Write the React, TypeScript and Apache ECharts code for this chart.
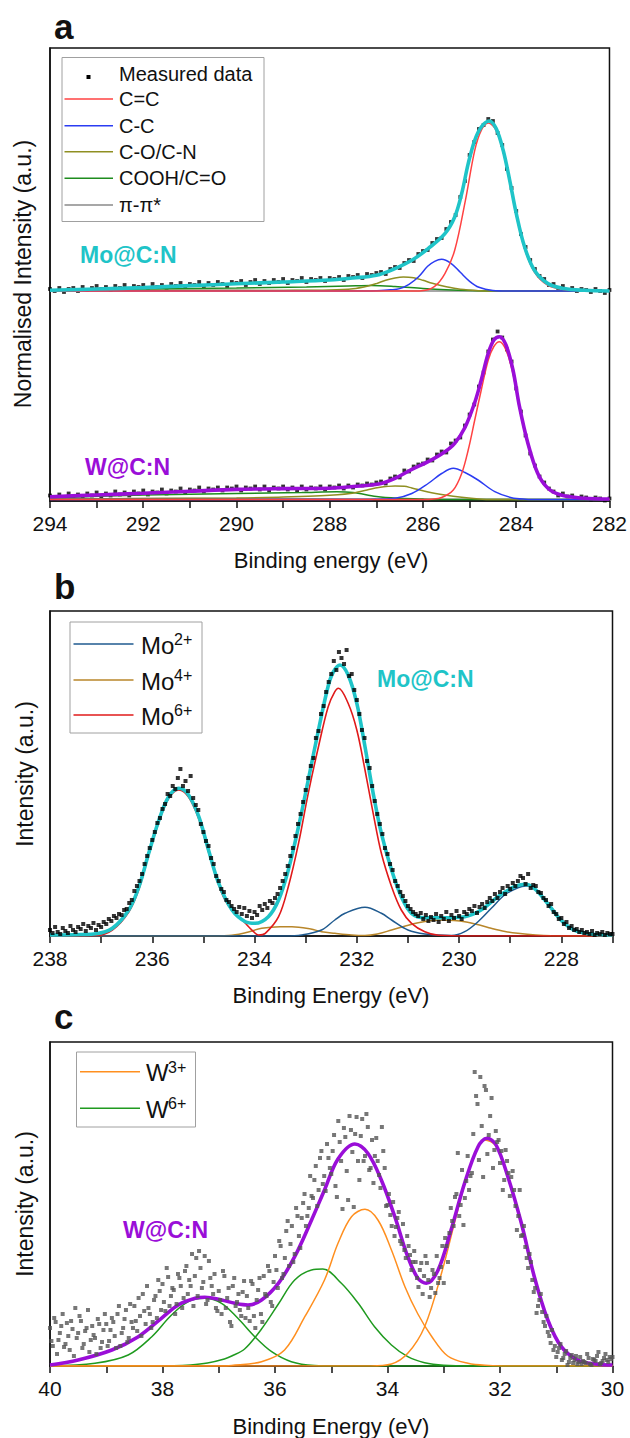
import React, { useEffect, useRef } from 'react';
import * as echarts from 'echarts';

const FONT = '"Liberation Sans", Arial, Helvetica, sans-serif';

// ---------------- Panel a : C 1s ----------------
const A_BE_START = 294;
const A_BE_STEP = 0.1;
const MO_OFFSET = 210;
const W_OFFSET = 1.5;

const A_MO_MEASURED = [
  2, 0, 3, -1, 2, 3, 0, 4, 1, 3,
  5, 2, 4, 1, 5, 3, 6, 2, 5, 4,
  6, 3, 7, 4, 6, 3, 7, 5, 8, 4,
  7, 6, 9, 5, 8, 6, 9, 7, 5, 9,
  8, 10, 6, 9, 11, 7, 10, 8, 11, 9,
  12, 8, 11, 10, 13, 9, 12, 11, 13, 10,
  13, 12, 14, 11, 15, 14, 16, 13, 17, 16,
  18, 19, 17, 22, 24, 23, 28, 31, 30, 37,
  40, 41, 48, 52, 53, 62, 69, 76, 94, 110,
  136, 149, 162, 166, 172, 170, 158, 146, 122, 103,
  80, 57, 44, 31, 22, 15, 12, 6, 7, 3,
  5, 1, 3, 0, 2, 1, -1, 2, 0, -2,
  1,
];
const A_W_MEASURED = [
  4, 1, 5, 2, 6, 3, 5, 2, 6, 4,
  7, 3, 6, 4, 8, 5, 7, 4, 8, 6,
  9, 5, 8, 7, 10, 6, 9, 8, 11, 7,
  10, 9, 12, 8, 11, 10, 12, 9, 12, 11,
  13, 9, 12, 11, 13, 10, 13, 9, 12, 11,
  13, 10, 12, 9, 13, 10, 12, 11, 13, 10,
  13, 12, 14, 11, 14, 12, 15, 14, 16, 15,
  17, 18, 16, 21, 23, 22, 29, 28, 33, 35,
  36, 40, 39, 45, 48, 47, 56, 59, 62, 74,
  85, 95, 113, 127, 148, 160, 168, 162, 150, 138,
  111, 88, 64, 46, 34, 23, 17, 11, 8, 4,
  6, 3, 4, 1, 3, 2, 0, 2, 1, -1,
  1,
];

const A_MO_ENVELOPE = [[294, 0.7], [293, 2], [292, 3.4], [291, 5.4], [290, 7.2], [289, 9], [288, 11], [287.5, 13], [287, 15.7], [286.6, 22.4], [286.24, 30.7], [285.89, 42.4], [285.53, 57.4], [285.32, 74], [285.17, 97.4], [285.03, 127.4], [284.89, 150.7], [284.75, 164], [284.58, 170], [284.43, 162.4], [284.28, 140.7], [284.14, 110.7], [284.0, 77.7], [283.82, 44], [283.61, 20.7], [283.32, 7.4], [282.97, 2.4], [282.54, 0.7], [282, 0]];
const A_MO_CC_DOUBLE = [[294, 0], [286.3, 0], [286.03, 0.3], [285.75, 4.7], [285.53, 17.4], [285.32, 40.7], [285.09, 90.7], [284.89, 140.7], [284.75, 160.7], [284.6, 168], [284.43, 160.7], [284.28, 139], [284.14, 109], [284.0, 75.7], [283.82, 42.4], [283.61, 19], [283.32, 5.7], [282.97, 1.4], [282.54, 0.3], [282, 0]];
const A_MO_CC_SINGLE = [[294, 0], [287.2, 0], [287.0, 0.3], [286.7, 1.2], [286.5, 2.4], [286.3, 6.7], [286.1, 14], [285.9, 24.7], [285.75, 29.7], [285.6, 31.7], [285.4, 27.7], [285.2, 18.7], [285.0, 9.7], [284.8, 3.7], [284.5, 0.5], [284.2, 0], [282, 0]];
const A_MO_CO = [[294, 0.3], [290, 0.5], [289, 0.6], [288, 1], [287.5, 2.2], [287.2, 4.7], [287.0, 7.4], [286.8, 10.7], [286.6, 13], [286.42, 14], [286.2, 13.2], [286.0, 10.7], [285.8, 7.7], [285.5, 4.2], [285.2, 1.7], [284.8, 0.3], [284.5, 0], [282, 0]];
const A_MO_COOH = [[294, 0.5], [292, 2], [290, 3], [288.5, 4], [287.6, 5], [287.1, 5.5], [286.6, 4.5], [286, 2.5], [285.5, 1.2], [285, 0.4], [284.4, 0], [282, 0]];
const A_MO_PI = [[294, 0.3], [291, 0.8], [289, 0.5], [286, 0.1], [284, 0], [282, 0]];

const A_W_ENVELOPE = [[294, 2.8], [293, 4.5], [292, 6.2], [291, 8.2], [290, 10.1], [289, 10.9], [288, 11.3], [287.5, 13], [286.95, 15.5], [286.6, 21.2], [286.24, 30.2], [285.89, 37.8], [285.53, 47.8], [285.32, 56.2], [285.1, 72], [284.89, 97], [284.75, 119.5], [284.6, 146.2], [284.48, 159.5], [284.36, 162.8], [284.22, 154.5], [284.07, 129.5], [283.93, 92.8], [283.75, 56.2], [283.54, 26.2], [283.32, 11.2], [283.04, 4.5], [282.54, 1.2], [282, 0.5]];
const A_W_CC_DOUBLE = [[294, 0], [286.0, 0], [285.82, 0.3], [285.6, 2], [285.35, 9.5], [285.17, 26], [285.03, 49.5], [284.89, 79.5], [284.75, 109.5], [284.6, 139.5], [284.48, 153], [284.36, 157.8], [284.22, 149.5], [284.07, 126], [283.93, 91], [283.75, 54.5], [283.54, 25.5], [283.32, 10.5], [283.04, 4], [282.54, 1], [282, 0.3]];
const A_W_CC_SINGLE = [[294, 0], [287.2, 0], [287, 0.3], [286.6, 1.2], [286.24, 6], [285.89, 16], [285.6, 26], [285.35, 31.2], [285.1, 27], [284.82, 19.5], [284.46, 7.8], [284.1, 1.8], [283.8, 0.3], [283.5, 0], [282, 0]];
const A_W_CO = [[294, 0.5], [292, 1], [290, 1.5], [289, 2.5], [288.2, 3.7], [287.56, 6], [287.2, 9.5], [286.95, 12], [286.6, 13.5], [286.4, 13.2], [286.24, 11.5], [285.89, 7.5], [285.53, 4.5], [285.17, 2.2], [284.8, 0.5], [284.5, 0], [282, 0]];
const A_W_COOH = [[294, 1.5], [292, 4.5], [290, 6], [288.6, 7], [287.85, 7.8], [287.5, 7], [287.0, 3], [286.5, 1.2], [286, 0.4], [285.5, 0], [282, 0]];
const A_W_PI = [[294, 0.5], [290, 1], [287, 0.5], [285, 0.2], [282, 0]];

const A_LEGEND = ['Measured data', 'C=C', 'C-C', 'C-O/C-N', 'COOH/C=O', 'π-π*'];

// ---------------- Panel b : Mo 3d ----------------
const B_BE_START = 238;
const B_BE_STEP = 0.05;
const B_MEASURED = [
  6, 3, 9, 4, 2, 8, 5, 3, 10, 6,
  4, 9, 7, 12, 5, 10, 8, 13, 6, 11,
  9, 14, 12, 17, 15, 20, 18, 22, 21, 26,
  27, 33, 36, 45, 50, 55, 62, 72, 80, 88,
  96, 104, 113, 118, 127, 132, 142, 140, 150, 147,
  158, 167, 150, 155, 145, 160, 138, 131, 126, 112,
  104, 95, 90, 78, 72, 60, 55, 47, 44, 36,
  34, 30, 27, 24, 29, 22, 28, 20, 25, 18,
  24, 21, 30, 26, 32, 28, 35, 33, 38, 42,
  48, 55, 62, 70, 80, 88, 100, 112, 122, 134,
  146, 158, 170, 178, 198, 205, 222, 230, 244, 254,
  262, 275, 266, 284, 278, 272, 286, 260, 262, 246,
  236, 222, 206, 198, 175, 168, 150, 135, 122, 112,
  102, 88, 82, 72, 66, 55, 50, 44, 40, 35,
  30, 27, 24, 22, 20, 23, 17, 21, 15, 19,
  16, 22, 14, 20, 17, 24, 15, 21, 18, 25,
  20, 17, 24, 22, 27, 25, 30, 23, 29, 32,
  28, 34, 38, 35, 42, 38, 44, 48, 42, 50,
  47, 53, 50, 55, 60, 58, 52, 62, 48, 51,
  50, 44, 43, 38, 36, 30, 32, 24, 22, 17,
  18, 12, 14, 8, 10, 6, 7, 4, 6, 3,
  4, 2, 5, 1, 3, 2, 4, 1, 3, 2,
  2,
];
const B_ENVELOPE = [[238, 1], [237.4, 1.5], [237.1, 2.2], [236.78, 7.7], [236.46, 26], [236.26, 49.3], [236.07, 82.7], [235.87, 116], [235.68, 139.3], [235.48, 147.7], [235.29, 141], [235.09, 119.3], [234.9, 86], [234.7, 52.7], [234.44, 26], [234.18, 14.3], [233.99, 12.7], [233.73, 19.3], [233.53, 36], [233.34, 66], [233.14, 109.3], [232.95, 156], [232.75, 206], [232.56, 250], [232.46, 264], [232.33, 271], [232.17, 261], [232.0, 232.7], [231.84, 189.3], [231.68, 142.7], [231.52, 102.7], [231.32, 66], [231.13, 39.3], [230.93, 22.7], [230.67, 18.3], [230.28, 18.3], [229.89, 19.3], [229.57, 26], [229.24, 39.3], [228.92, 49.3], [228.72, 51.7], [228.53, 47.7], [228.27, 32.7], [228.01, 16], [227.75, 6], [227.42, 2], [227, 1]];
const B_MO6 = [[238, 0], [237.1, 0.5], [236.78, 6], [236.46, 24], [236.26, 47], [236.07, 81], [235.87, 114], [235.68, 137.5], [235.48, 146], [235.29, 139], [235.09, 117], [234.9, 84], [234.7, 51], [234.54, 32.7], [234.18, 12.7], [234.02, 4.3], [233.92, 1], [233.79, 2.7], [233.53, 19.3], [233.34, 49.3], [233.14, 92.7], [232.95, 142.7], [232.75, 189.3], [232.56, 229.3], [232.43, 244.3], [232.36, 247.7], [232.17, 232.7], [232.0, 206], [231.84, 166], [231.68, 122.7], [231.52, 82.7], [231.32, 49.3], [231.13, 26], [230.93, 12.7], [230.67, 4.3], [230.4, 0.7], [229.8, 0], [227, 0]];
const B_MO2 = [[238, 0], [233.4, 0], [233.08, 1], [232.69, 6], [232.43, 16], [232.23, 22.7], [231.84, 28.7], [231.52, 22.7], [231.32, 16], [231.0, 6], [230.67, 2], [230.15, 0.5], [229.89, 4.3], [229.63, 14.3], [229.37, 27.7], [229.11, 41], [228.85, 48.3], [228.69, 50], [228.46, 44.7], [228.27, 32.7], [228.01, 16], [227.75, 6], [227.42, 2], [227, 0.5]];
const B_MO4 = [[238, 0], [235, 0], [234.5, 0.5], [234.18, 3.3], [233.86, 7.7], [233.5, 9.3], [233.27, 9.3], [232.9, 7], [232.69, 4.3], [232.43, 2.7], [232.1, 1], [231.84, 0.5], [231.6, 2], [231.32, 6], [231.05, 10], [230.8, 13.3], [230.55, 15.5], [230.35, 16], [230.1, 15.5], [229.89, 14.3], [229.6, 11], [229.37, 7.7], [229.1, 4.5], [228.85, 2.7], [228.5, 1], [228.2, 0.3], [227, 0]];
const B_LEGEND = ['2+', '4+', '6+'];

// ---------------- Panel c : W 4f ----------------
const C_BE_START = 40;
const C_BE_STEP = 0.05;
const C_MEASURED = [
  38, 20, 44, 26, 40, 19, 43, 16, 37, 58,
  33, 45, 22, 38, 14, 40, 28, 47, 18, 36,
  42, 25, 48, 30, 52, 20, 38, 56, 28, 44,
  60, 35, 50, 72, 42, 58, 38, 66, 48, 75,
  82, 55, 89, 70, 76, 62, 88, 58, 95, 72,
  80, 60, 108, 115, 78, 110, 66, 88, 72, 58,
  75, 52, 90, 68, 44, 80, 60, 72, 50, 85,
  70, 45, 82, 38, 76, 52, 90, 70, 95, 60,
  110, 78, 120, 92, 135, 100, 140, 112, 150, 118,
  163, 140, 158, 170, 186, 160, 208, 182, 175, 208,
  192, 231, 169, 224, 157, 229, 166, 236, 159, 249,
  186, 247, 210, 239, 198, 183, 228, 191, 239, 198,
  161, 151, 164, 139, 154, 122, 116, 130, 111, 104,
  104, 79, 103, 90, 103, 69, 96, 73, 83, 99,
  83, 120, 133, 145, 169, 213, 161, 141, 185, 176,
  193, 294, 262, 289, 189, 276, 231, 268, 216, 224,
  203, 176, 216, 193, 189, 176, 136, 176, 131, 119,
  98, 104, 74, 53, 66, 54, 40, 34, 23, 16,
  9, 18, 6, 12, 1, 8, 3, 10, 4, 2,
  4, 12, 2, 7, 5, 14, 3, 8, 6, 9,
  9,
];
// second sweep, sampled half a step later
const C_BE_START_2 = 39.975;
const C_MEASURED_2 = [
  25, 48, 12, 33, 52, 22, 30, 45, 10, 28,
  50, 18, 35, 56, 26, 31, 12, 42, 24, 52,
  20, 36, 44, 18, 60, 33, 47, 24, 62, 38,
  45, 68, 30, 55, 80, 52, 44, 70, 86, 56,
  64, 98, 60, 78, 52, 92, 80, 68, 100, 86,
  112, 90, 70, 98, 84, 62, 105, 80, 92, 55,
  66, 95, 58, 78, 40, 88, 64, 56, 74, 48,
  58, 85, 50, 66, 88, 44, 72, 100, 64, 84,
  96, 125, 88, 108, 145, 122, 104, 158, 130, 148,
  172, 150, 190, 168, 200, 176, 215, 190, 222, 198,
  215, 180, 245, 205, 238, 195, 250, 214, 232, 205,
  230, 205, 252, 196, 226, 210, 205, 178, 215, 160,
  172, 140, 130, 148, 125, 142, 108, 120, 96, 115,
  88, 96, 72, 110, 86, 78, 92, 110, 88, 120,
  128, 104, 158, 140, 172, 150, 196, 168, 210, 190,
  232, 270, 206, 240, 280, 212, 250, 198, 235, 226,
  215, 186, 205, 170, 195, 160, 150, 130, 140, 108,
  112, 86, 78, 60, 72, 44, 50, 30, 36, 20,
  14, 22, 8, 15, 4, 11, 6, 2, 9, 5,
  3, 8, 1, 6, 10, 2, 5, 12, 4, 7,
];
const C_ENVELOPE = [[40, 1], [39.5, 6], [38.9, 16], [38.43, 29.3], [38.02, 47.7], [37.72, 61], [37.42, 67.7], [37.25, 68.7], [36.95, 66], [36.71, 62.7], [36.48, 61], [36.24, 66], [35.94, 82.7], [35.65, 109.3], [35.35, 146], [35.12, 176], [34.88, 207], [34.58, 222], [34.35, 212.7], [34.11, 186], [33.87, 149.3], [33.64, 109.3], [33.46, 87.7], [33.31, 82.7], [33.1, 96], [32.87, 136], [32.63, 182.7], [32.39, 219.3], [32.23, 227.7], [32.07, 221], [31.86, 189.3], [31.62, 142.7], [31.39, 89.3], [31.15, 46], [30.91, 19.3], [30.62, 6], [30.3, 2], [30, 1]];
const C_W3_A = [[40, 0], [37, 0], [36.77, 0.5], [36.24, 4.3], [35.83, 16], [35.47, 49.3], [35.12, 86], [34.88, 122.7], [34.64, 149.3], [34.4, 156.7], [34.17, 146], [33.93, 116], [33.69, 79.3], [33.46, 52], [33.22, 30], [32.93, 10], [32.57, 2.7], [32.2, 0.5], [31.8, 0], [30, 0]];
const C_W3_B = [[40, 0], [34.3, 0], [33.93, 2], [33.64, 12.7], [33.34, 39.3], [33.04, 92.7], [32.75, 156], [32.51, 202.7], [32.27, 226], [32.07, 220], [31.86, 188], [31.62, 141], [31.39, 88], [31.15, 45], [30.91, 18.5], [30.62, 5.5], [30.3, 1.5], [30, 0.5]];
const C_W6_A = [[40, 0], [39.2, 2.7], [38.61, 11], [38.19, 29.3], [37.84, 51], [37.54, 64.3], [37.25, 67.7], [36.95, 62.7], [36.66, 47.7], [36.36, 29.3], [36.06, 14.3], [35.71, 4.3], [35.3, 0.5], [34.9, 0], [30, 0]];
const C_W6_B = [[40, 0], [37.8, 0.3], [37.5, 1], [37.2, 3], [36.9, 7], [36.77, 10], [36.54, 17], [36.24, 37], [35.94, 62], [35.65, 86], [35.35, 96], [35.15, 97], [34.82, 82.7], [34.52, 62.7], [34.23, 39.3], [33.93, 21], [33.64, 9.3], [33.34, 3.3], [33.0, 0.7], [32.5, 0], [30, 0]];
const C_LEGEND = ['3+', '6+'];

// ---------------- colours ----------------
const CYAN = '#1FC4C8';
const PURPLE = '#9A0ED8';
const COL_CC2 = '#FF4242';
const COL_CC1 = '#2B3CF2';
const COL_CO = '#8F8F22';
const COL_COOH = '#1E8C1E';
const COL_PI = '#8A8A8A';
const COL_MO2 = '#1F5A8F';
const COL_MO4 = '#B8862A';
const COL_MO6 = '#E01A1A';
const COL_W3 = '#FF8F1F';
const COL_W6 = '#1F9A1F';

const shift = (pts: number[][], off: number) => pts.map(([x, y]) => [x, y + off]);
const grid = (start: number, step: number, vals: number[], off: number) =>
  vals.map((v, i) => [+(start - i * step).toFixed(3), v + off]);

function line(data: number[][], color: string, width: number, idx: number, z: number) {
  return {
    type: 'line', data, xAxisIndex: idx, yAxisIndex: idx, showSymbol: false, symbol: 'none',
    smooth: 0.35, lineStyle: { color, width }, z, silent: true, animation: false,
  };
}
function dots(data: number[][], color: string, size: number, idx: number, z: number) {
  return {
    type: 'scatter', data, xAxisIndex: idx, yAxisIndex: idx, symbol: 'rect', symbolSize: size,
    itemStyle: { color }, z, silent: true, animation: false,
  };
}

function xAxisDef(idx: number, min: number, max: number) {
  return {
    type: 'value', gridIndex: idx, min, max, interval: 1, inverse: true,
    axisLine: { show: true, onZero: false, lineStyle: { color: '#111', width: 1.5 } },
    axisTick: { show: true, inside: false, length: 7, lineStyle: { color: '#111', width: 1.5 } },
    axisLabel: {
      show: true, margin: 12, fontSize: 21, color: '#111', fontFamily: FONT,
      formatter: (v: number) => (Math.round(v) % 2 === 0 ? String(Math.round(v)) : ''),
    },
    splitLine: { show: false },
  };
}
function yAxisDef(idx: number, max: number) {
  return {
    type: 'value', gridIndex: idx, min: 0, max,
    axisLine: { show: true, lineStyle: { color: '#111', width: 1.5 } },
    axisTick: { show: false }, axisLabel: { show: false }, splitLine: { show: false },
  };
}

function txt(x: number, y: number, text: string, size: number, opts: any = {}) {
  return {
    type: 'text', x, y, z: 100, rotation: opts.rotation || 0,
    style: {
      text, fontSize: size, fontFamily: FONT, fontWeight: opts.bold ? 'bold' : 'normal',
      fill: opts.color || '#111', align: opts.align || 'left', verticalAlign: 'middle',
    },
  };
}
function seg(x1: number, x2: number, y: number, color: string) {
  return { type: 'line', z: 100, shape: { x1, y1: y, x2, y2: y }, style: { stroke: color, lineWidth: 1.6 } };
}
function box(x: number, y: number, w: number, h: number) {
  return { type: 'rect', z: 99, shape: { x, y, width: w, height: h }, style: { fill: '#fff', stroke: '#a0a0a0', lineWidth: 1 } };
}

export default function App() {
  const ref = useRef<HTMLDivElement>(null);
  useEffect(() => {
    if (!ref.current) return;
    const chart = echarts.init(ref.current, undefined, { renderer: 'svg' });

    const aColors = [COL_CC2, COL_CC1, COL_CO, COL_COOH, COL_PI];
    const aY = [99, 125.7, 151.7, 178.3, 205];
    const bColors = [COL_MO2, COL_MO4, COL_MO6];
    const bY = [644, 680, 715];
    const cColors = [COL_W3, COL_W6];
    const cY = [1071.7, 1108.3];

    const graphics: any[] = [
      txt(54, 26, 'a', 35, { bold: true }),
      txt(54, 586, 'b', 35, { bold: true }),
      txt(54, 1016, 'c', 35, { bold: true }),
      txt(331, 560, 'Binding energy (eV)', 22, { align: 'center' }),
      txt(331, 995, 'Binding Energy (eV)', 22, { align: 'center' }),
      txt(331, 1426, 'Binding Energy (eV)', 22, { align: 'center' }),
      txt(23, 274, 'Normalised Intensity (a.u.)', 23, { align: 'center', rotation: Math.PI / 2 }),
      txt(25, 774, 'Intensity (a.u.)', 23, { align: 'center', rotation: Math.PI / 2 }),
      txt(25, 1204, 'Intensity (a.u.)', 23, { align: 'center', rotation: Math.PI / 2 }),
      txt(80, 255, 'Mo@C:N', 23, { bold: true, color: CYAN }),
      txt(85, 466.5, 'W@C:N', 23, { bold: true, color: PURPLE }),
      txt(377, 679, 'Mo@C:N', 23, { bold: true, color: CYAN }),
      txt(123, 1230, 'W@C:N', 23, { bold: true, color: PURPLE }),
      // legend a
      box(62, 57.5, 202, 164),
      { type: 'rect', z: 100, shape: { x: 86.5, y: 75, width: 4, height: 4 }, style: { fill: '#000' } },
      txt(119, 73.5, A_LEGEND[0], 20),
      ...A_LEGEND.slice(1).flatMap((name, i) => [
        seg(64.5, 113, aY[i], aColors[i]),
        txt(119, aY[i], name, 20),
      ]),
      // legend b
      box(70, 622, 132, 111),
      ...B_LEGEND.flatMap((sup, i) => [
        seg(73.5, 133.5, bY[i], bColors[i]),
        txt(141, bY[i] + 1, 'Mo', 24),
        txt(174, bY[i] - 4.5, sup, 16),
      ]),
      // legend c
      box(76.5, 1052, 119, 75),
      ...C_LEGEND.flatMap((sup, i) => [
        seg(80, 140, cY[i], cColors[i]),
        txt(146, cY[i] + 1, 'W', 24),
        txt(168, cY[i] - 4.5, sup, 16),
      ]),
    ];

    const series: any[] = [
      // panel a
      dots(grid(A_BE_START, A_BE_STEP, A_MO_MEASURED, MO_OFFSET), '#000', 3.8, 0, 1),
      dots(grid(A_BE_START, A_BE_STEP, A_W_MEASURED, W_OFFSET), '#000', 3.8, 0, 1),
      line(shift(A_MO_PI, MO_OFFSET), COL_PI, 1.5, 0, 2),
      line(shift(A_MO_COOH, MO_OFFSET), COL_COOH, 1.5, 0, 2),
      line(shift(A_MO_CO, MO_OFFSET), COL_CO, 1.5, 0, 2),
      line(shift(A_MO_CC_SINGLE, MO_OFFSET), COL_CC1, 1.5, 0, 2),
      line(shift(A_MO_CC_DOUBLE, MO_OFFSET), COL_CC2, 1.5, 0, 2),
      line(shift(A_W_PI, W_OFFSET), COL_PI, 1.5, 0, 2),
      line(shift(A_W_COOH, W_OFFSET), COL_COOH, 1.5, 0, 2),
      line(shift(A_W_CO, W_OFFSET), COL_CO, 1.5, 0, 2),
      line(shift(A_W_CC_SINGLE, W_OFFSET), COL_CC1, 1.5, 0, 2),
      line(shift(A_W_CC_DOUBLE, W_OFFSET), COL_CC2, 1.5, 0, 2),
      line(shift(A_MO_ENVELOPE, MO_OFFSET), CYAN, 3.6, 0, 3),
      line(shift(A_W_ENVELOPE, W_OFFSET), PURPLE, 3.6, 0, 3),
      // panel b
      line(B_MO4, COL_MO4, 1.5, 1, 2),
      line(B_MO2, COL_MO2, 1.5, 1, 2),
      line(B_MO6, COL_MO6, 1.6, 1, 2),
      line(B_ENVELOPE, CYAN, 3.6, 1, 3),
      dots(grid(B_BE_START, B_BE_STEP, B_MEASURED, 0), '#000', 4, 1, 4),
      // panel c
      line(C_W6_A, COL_W6, 1.5, 2, 2),
      line(C_W6_B, COL_W6, 1.5, 2, 2),
      line(C_W3_A, COL_W3, 1.5, 2, 2),
      line(C_W3_B, COL_W3, 1.5, 2, 2),
      line(C_ENVELOPE, PURPLE, 3.6, 2, 3),
      dots(grid(C_BE_START, C_BE_STEP, C_MEASURED, 0), '#555', 4, 2, 4),
      dots(grid(C_BE_START_2, C_BE_STEP, C_MEASURED_2, 0), '#555', 4, 2, 4),
    ];

    const gridStyle = { show: true, borderColor: '#111', borderWidth: 1.5, backgroundColor: 'transparent' };
    chart.setOption({
      animation: false,
      backgroundColor: '#fff',
      grid: [
        { left: 50, top: 48, width: 562.5, height: 453, ...gridStyle },
        { left: 50, top: 611, width: 562.5, height: 325, ...gridStyle },
        { left: 50, top: 1042, width: 562.5, height: 324, ...gridStyle },
      ],
      xAxis: [xAxisDef(0, 282, 294), xAxisDef(1, 227, 238), xAxisDef(2, 30, 40)],
      yAxis: [yAxisDef(0, 453), yAxisDef(1, 325), yAxisDef(2, 324)],
      series,
      graphic: { elements: graphics },
    });
    return () => chart.dispose();
  }, []);
  return <div ref={ref} style={{ position: 'absolute', left: 0, top: 0, width: 630, height: 1438 }} />;
}
